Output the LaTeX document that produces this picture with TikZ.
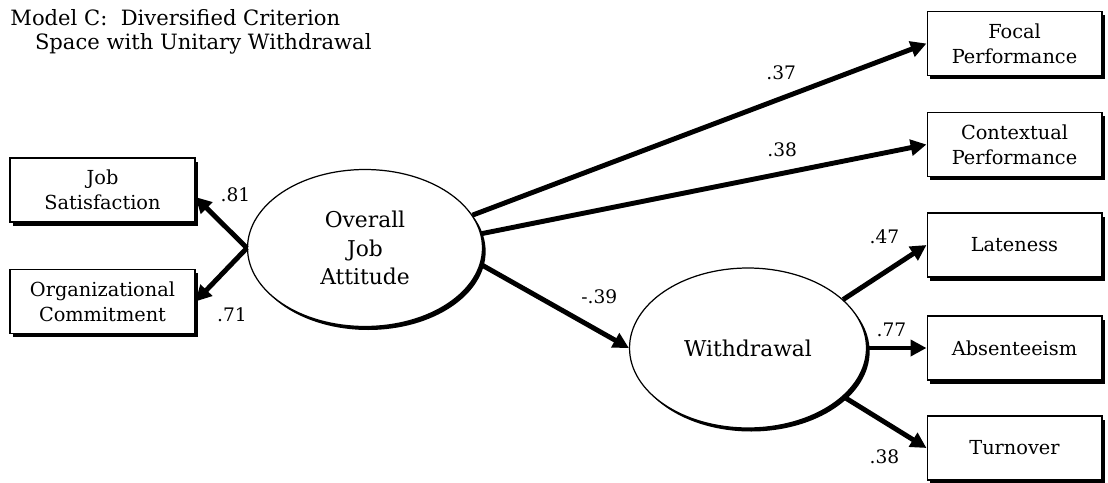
\documentclass[tikz,border=0pt]{standalone}
\usepackage{fontspec}
\setmainfont{DejaVu Serif}
\usepackage{tikz}
\usetikzlibrary{arrows.meta,shapes.geometric,shadows,positioning}

\begin{document}
\begin{tikzpicture}[>={Triangle[length=9pt,width=9pt]},x=0.02cm,y=-0.02cm,
		line width=2.8pt]
		\tikzstyle{obs}=[rectangle,draw=black,fill=white,line width=0.6pt,minimum width=3.7cm,
		minimum height=1.28cm,align=center,font=\fontsize{11}{14.2}\selectfont,
		drop shadow={shadow xshift=1.5pt,shadow yshift=-2pt,opacity=1,fill=black}]
		\tikzstyle{latent}=[ellipse,draw=black,fill=white,line width=0.7pt,inner sep=0pt,
		minimum width=4.7cm,minimum height=3.14cm,align=center,font=\fontsize{12.4}{16.4}\selectfont,
		drop shadow={shadow xshift=1.8pt,shadow yshift=-2pt,opacity=1,fill=black}]
		\tikzstyle{coef}=[inner sep=1pt,font=\fontsize{10.6}{12}\selectfont]
		
		\useasboundingbox (0,0) rectangle (1108,483);
		
		\node[anchor=north west,align=left,inner sep=0pt,font=\fontsize{12}{13.4}\selectfont]
		(title) at (8,7) {Model C:~ Diversified Criterion\\\hspace*{14pt}Space with Unitary Withdrawal};
		
		\node[obs]                     (js)  at (102.5,190)  {Job\\Satisfaction};
		\node[obs]                     (oc)  at (102.5,301.5) {Organizational\\Commitment};
		\node[latent]                  (oja) at (365,248)    {Overall\\Job\\Attitude};
		\node[latent,minimum width=4.74cm,minimum height=3.2cm] (wd) at (748,348) {Withdrawal};
		\node[obs,minimum width=3.5cm] (fp)  at (1014.5,43.5) {Focal\\Performance};
		\node[obs,minimum width=3.5cm] (cp)  at (1014.5,144.5) {Contextual\\Performance};
		\node[obs,minimum width=3.5cm] (lt)  at (1014.5,245)  {Lateness};
		\node[obs,minimum width=3.5cm] (ab)  at (1014.5,348)  {Absenteeism};
		\node[obs,minimum width=3.5cm] (tn)  at (1014.5,448)  {Turnover};
		
		\path[->]
		(oja.west) edge node[coef,pos=0.9,above right=-2pt and 9pt] {.81} ([yshift=-4pt]js.east);
		\path[->]
		(oja.west) edge node[coef,pos=0.9,below right=4pt and 7pt] {.71} (oc.east);
		\path[->]
		(oja.17) edge node[coef,pos=0.68,above=8pt] {.37} (fp.west);
		\path[->]
		(oja.7) edge node[coef,pos=0.676,above=7pt] {.38} (cp.west);
		\path[->]
		(oja.-8) edge node[coef,pos=0.8,above=13pt] {-.39} (wd.west);
		\path[->]
		(wd.27) edge node[coef,pos=0.85,above left=3pt and 6pt] {.47} (lt.west);
		\path[->]
		(wd.east) edge node[coef,pos=0.41,above=4pt] {.77} (ab.west);
		\path[->]
		(wd.-27) edge node[coef,pos=0.85,below left=3pt and 6pt] {.38} (tn.west);
		\end{tikzpicture}
\end{document}
